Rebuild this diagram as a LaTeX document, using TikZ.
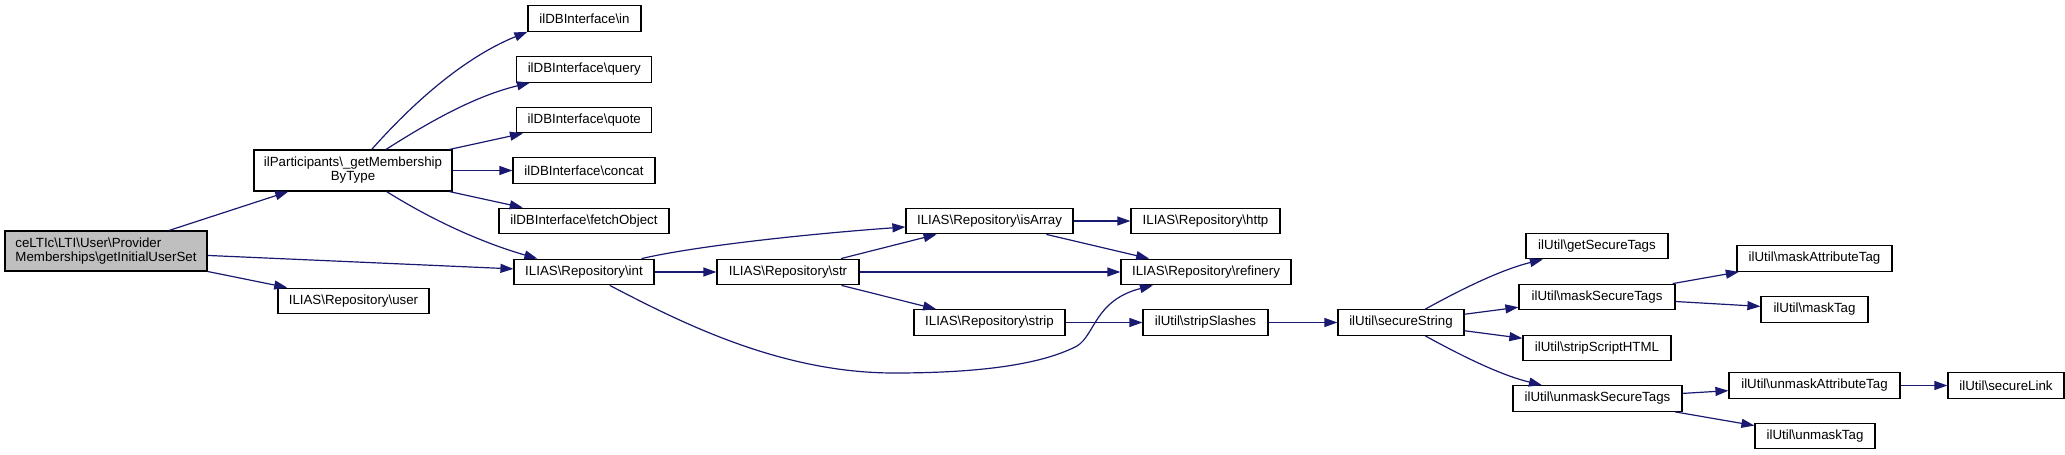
\documentclass[tikz,border=0pt]{standalone}
\usepackage{fontspec}
\setmainfont{Liberation Sans}
\usetikzlibrary{arrows.meta}
\newcommand{\bsl}{\textbackslash{}}
\definecolor{edgeblue}{HTML}{191970}
\definecolor{rootgray}{HTML}{BFBFBF}
\begin{document}
\begin{tikzpicture}[x=1pt,y=-1pt,
  box/.style={draw=black, line width=1.2pt, inner sep=0pt, minimum height=25.6pt,
    font=\fontsize{13.3}{14}\selectfont},
  edge/.style={draw=edgeblue, line width=1.2pt, -{Triangle[length=13pt,width=9pt]}},
]
\useasboundingbox (0,0) rectangle (2065,455);

\node[box, fill=rootgray, minimum width=202pt, minimum height=40pt, align=left] (root) at (106,251)
  {ceLTIc\bsl LTI\bsl User\bsl Provider\\Memberships\bsl getInitialUserSet};
\node[box, minimum width=198pt, minimum height=41pt, align=center] (getM) at (353,170.5)
  {ilParticipants\bsl\_getMembership\\ByType};
\node[box, minimum width=151pt] (user) at (353.5,301) {ILIAS\bsl Repository\bsl user};

\node[box, minimum width=113pt] (in) at (584.5,18.5) {ilDBInterface\bsl in};
\node[box, minimum width=135pt] (query) at (584.3,69.3) {ilDBInterface\bsl query};
\node[box, minimum width=135pt] (quote) at (584.3,120) {ilDBInterface\bsl quote};
\node[box, minimum width=142pt] (concat) at (584,170.5) {ilDBInterface\bsl concat};
\node[box, minimum width=170pt] (fetch) at (584,221) {ilDBInterface\bsl fetchObject};
\node[box, minimum width=140pt] (int) at (584,272) {ILIAS\bsl Repository\bsl int};

\node[box, minimum width=142pt] (str) at (788,272) {ILIAS\bsl Repository\bsl str};
\node[box, minimum width=167pt] (isArray) at (989.5,221) {ILIAS\bsl Repository\bsl isArray};
\node[box, minimum width=151pt] (strip) at (989.5,322.5) {ILIAS\bsl Repository\bsl strip};
\node[box, minimum width=149pt] (http) at (1205.5,221) {ILIAS\bsl Repository\bsl http};
\node[box, minimum width=170pt] (refinery) at (1206,272) {ILIAS\bsl Repository\bsl refinery};
\node[box, minimum width=125pt] (stripSl) at (1205.5,322.5) {ilUtil\bsl stripSlashes};
\node[box, minimum width=126pt] (secStr) at (1401,322.5) {ilUtil\bsl secureString};

\node[box, minimum width=142pt] (getST) at (1597,246) {ilUtil\bsl getSecureTags};
\node[box, minimum width=156pt] (maskST) at (1597,297) {ilUtil\bsl maskSecureTags};
\node[box, minimum width=148pt] (stripSH) at (1597,348) {ilUtil\bsl stripScriptHTML};
\node[box, minimum width=169pt] (unmaskST) at (1597.5,398.5) {ilUtil\bsl unmaskSecureTags};

\node[box, minimum width=155pt] (maskAT) at (1814.5,258.5) {ilUtil\bsl maskAttributeTag};
\node[box, minimum width=107pt] (maskTag) at (1814.5,309.5) {ilUtil\bsl maskTag};
\node[box, minimum width=171pt] (unmaskAT) at (1814.5,385.5) {ilUtil\bsl unmaskAttributeTag};
\node[box, minimum width=120pt] (unmaskTag) at (1815,436) {ilUtil\bsl unmaskTag};
\node[box, minimum width=116pt] (secLink) at (2006,385.5) {ilUtil\bsl secureLink};

% edges
\draw[edge] (root) -- (getM);
\draw[edge] (root) -- (int);
\draw[edge] (root) -- (user);

\draw[edge] (getM) .. controls (420,95) and (470,55) .. (in.south west);
\draw[edge] (getM) .. controls (440,115) and (480,95) .. (query);
\draw[edge] (getM) -- (quote);
\draw[edge] (getM) -- (concat);
\draw[edge] (getM) -- (fetch);
\draw[edge] (getM) .. controls (440,225) and (490,245) .. (int);

\draw[edge] (int) .. controls (700,245) and (820,233) .. (isArray);
\draw[edge] (int) -- (str);
\draw[edge] (int) .. controls (680,322) and (780,373) .. (894,373)
  .. controls (1000,373) and (1050,360) .. (1077,346)
  .. controls (1095,335) and (1095,300) .. (refinery);

\draw[edge] (str) -- (isArray);
\draw[edge] (str) -- (refinery);
\draw[edge] (str) -- (strip);

\draw[edge] (isArray) -- (http);
\draw[edge] (isArray) -- (refinery);

\draw[edge] (strip) -- (stripSl);
\draw[edge] (stripSl) -- (secStr);

\draw[edge] (secStr) .. controls (1460,290) and (1500,270) .. (getST);
\draw[edge] (secStr) -- (maskST);
\draw[edge] (secStr) -- (stripSH);
\draw[edge] (secStr) .. controls (1460,355) and (1500,375) .. (unmaskST);

\draw[edge] (maskST) -- (maskAT);
\draw[edge] (maskST) -- (maskTag);
\draw[edge] (unmaskST) -- (unmaskAT);
\draw[edge] (unmaskST) -- (unmaskTag);
\draw[edge] (unmaskAT) -- (secLink);
\end{tikzpicture}
\end{document}
